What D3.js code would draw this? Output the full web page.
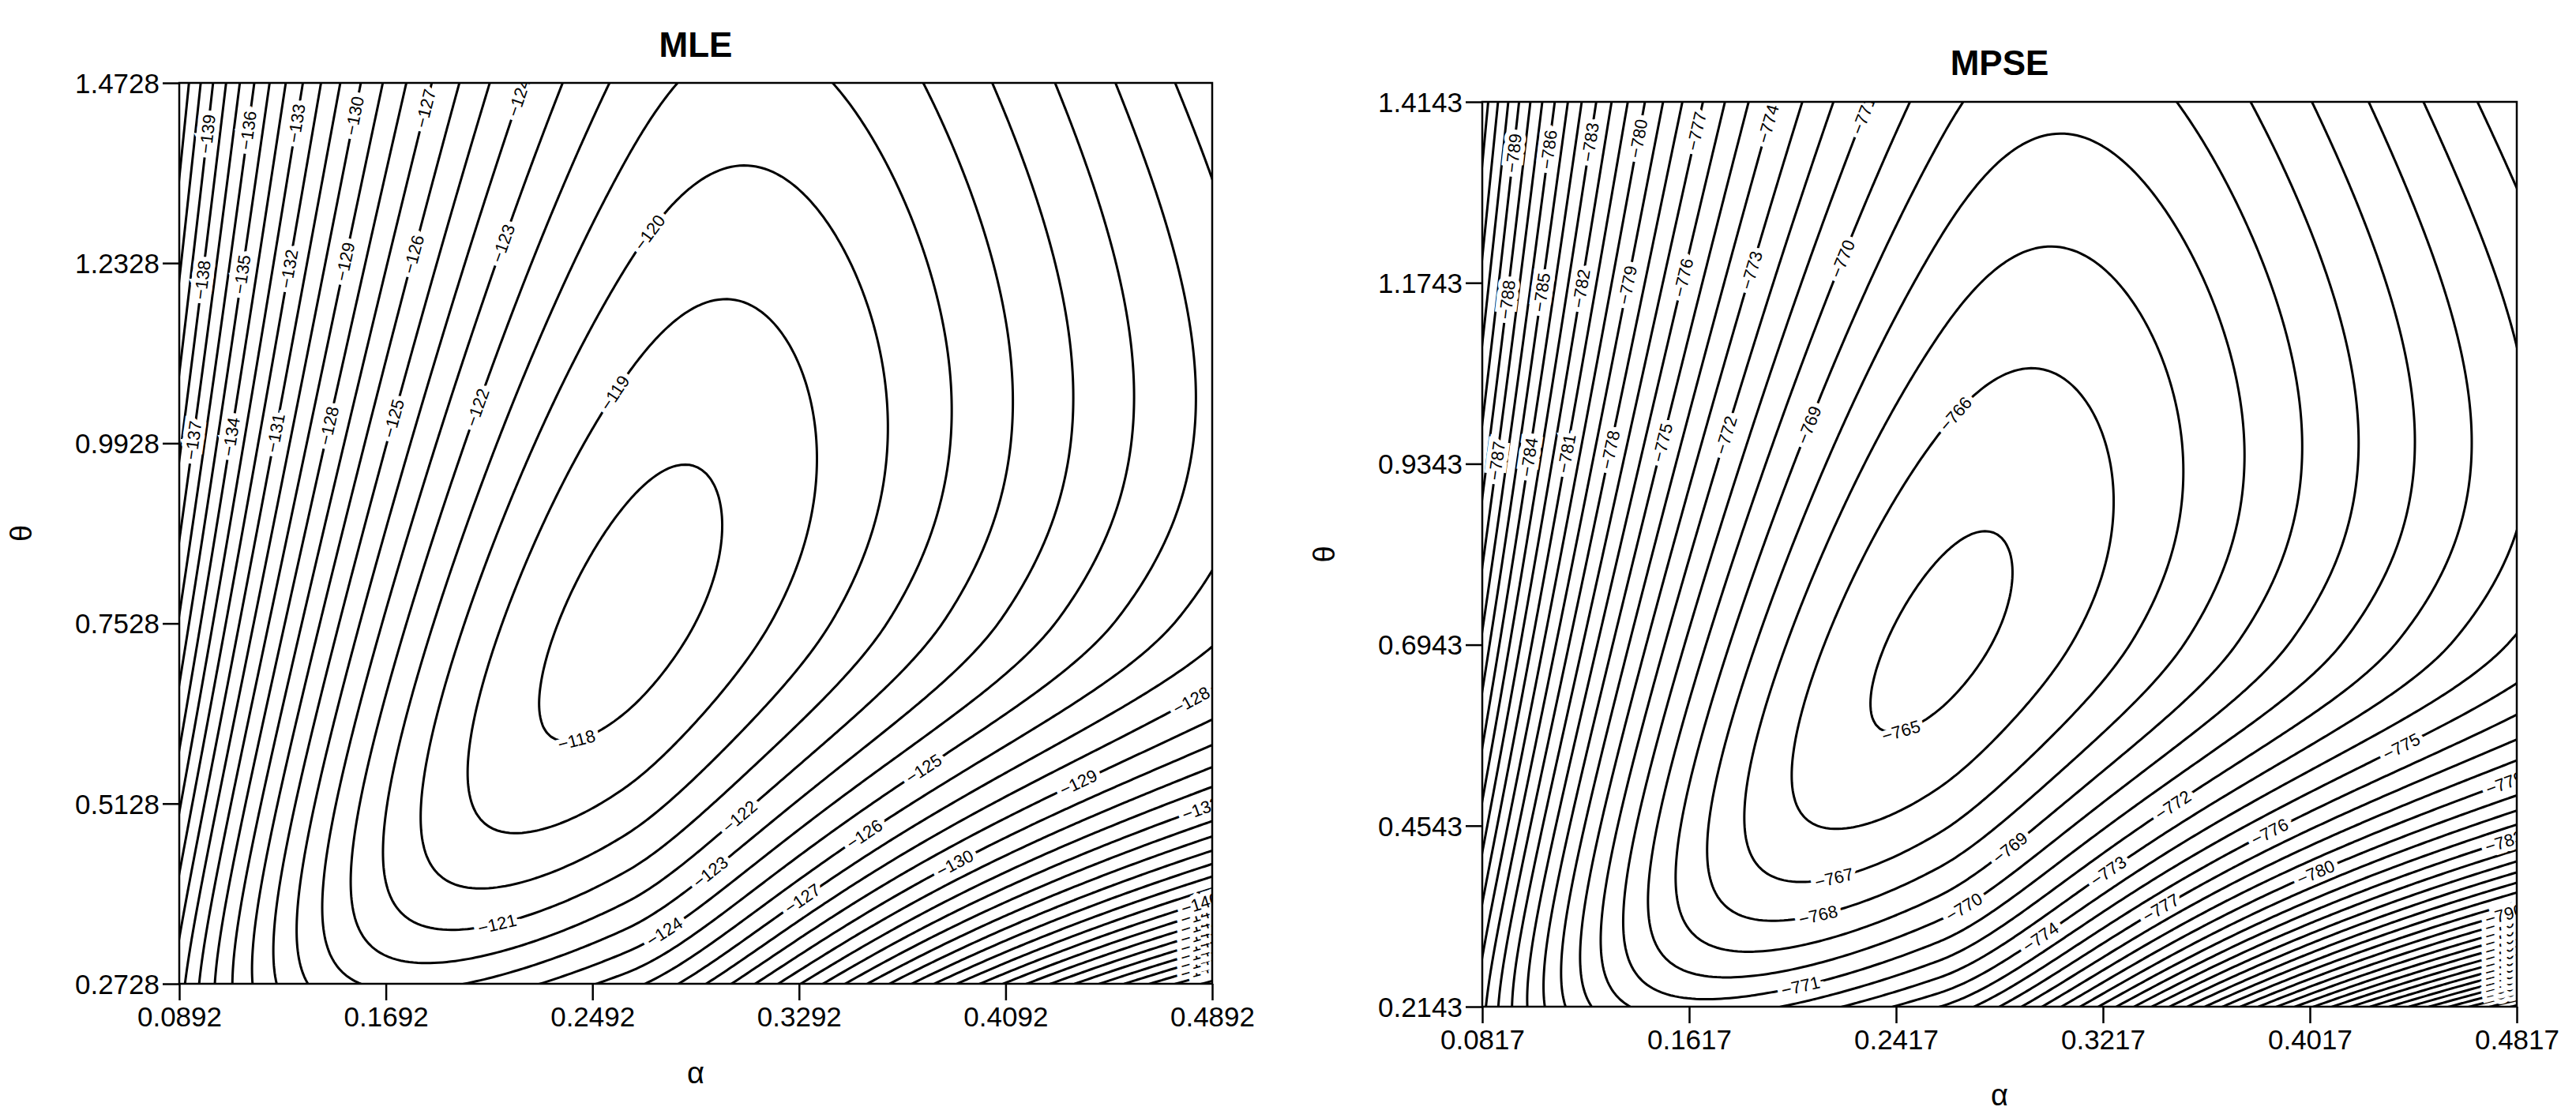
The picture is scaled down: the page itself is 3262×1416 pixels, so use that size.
<!DOCTYPE html>
<html>
<head>
<meta charset="utf-8">
<script src="https://cdn.jsdelivr.net/npm/d3@7"></script>
<style>
  body { margin: 0; background: #fff; }
  text { font-family: "Liberation Sans", Arial, sans-serif; }
</style>
</head>
<body>
<svg id="viz" width="3262" height="1416"></svg>
<script>
// tick values
var mleAlphaTicks = [0.0892, 0.1692, 0.2492, 0.3292, 0.4092, 0.4892];
var mleThetaTicks = [0.2728, 0.5128, 0.7528, 0.9928, 1.2328, 1.4728];
var mpseAlphaTicks = [0.0817, 0.1617, 0.2417, 0.3217, 0.4017, 0.4817];
var mpseThetaTicks = [0.2143, 0.4543, 0.6943, 0.9343, 1.1743, 1.4143];

// contour levels
var mleLevels = d3.range(-118, -161, -1);
var mpseLevels = d3.range(-765, -811, -1);

// surface shape:
// [peak value, alpha at peak, theta at peak, A, B, C, K, k]
var mleSurface = [-117.6, 0.262, 0.76, 40, -15, 12.6, 166, 6];
var mpseSurface = [-764.75, 0.258, 0.70, 40, -15, 12.6, 175, 7];

function surface(p, a, t) {
  var x = Math.log(a / p[1]), y = Math.log(t / p[2]);
  var xp = Math.max(x, 0);
  var yw = y < 0 ? y * y : 0.25 * y * y;
  var q = p[3] * x * x + 2 * p[4] * x * y + p[5] * y * y + p[6] * xp * xp * yw;
  var k = p[7];
  return p[0] - k * (Math.sqrt(1 + 2 * q / k) - 1);
}

var svg = d3.select("#viz");

function segDist(p, a, b) {
  var dx = b[0] - a[0], dy = b[1] - a[1];
  var u = Math.max(0, Math.min(1, ((p[0] - a[0]) * dx + (p[1] - a[1]) * dy) / (dx * dx + dy * dy)));
  return Math.hypot(p[0] - a[0] - u * dx, p[1] - a[1] - u * dy);
}

function drawPanel(opt) {
  var g = svg.append("g");
  var x = d3.scaleLinear().domain(d3.extent(opt.aTicks)).range([opt.x0, opt.x1]);
  var y = d3.scaleLinear().domain(d3.extent(opt.tTicks)).range([opt.y1, opt.y0]);
  var W = opt.x1 - opt.x0, H = opt.y1 - opt.y0;
  var P = function(fx, fy) { return [opt.x0 + fx * W, opt.y0 + fy * H]; };

  // grid a bit larger than the plot so the outer edges get clipped off
  var n = 260, m = 260, pad = 6;
  var gx = d3.scaleLinear().domain([pad, n - 1 - pad]).range(x.domain());
  var gy = d3.scaleLinear().domain([pad, m - 1 - pad]).range(y.domain().slice().reverse());
  var vals = new Array(n * m);
  for (var j = 0; j < m; j++)
    for (var i = 0; i < n; i++)
      vals[j * n + i] = surface(opt.surf, Math.max(gx(i), 0.01), Math.max(gy(j), 0.01));

  var contours = d3.contours().size([n, m]).thresholds(opt.levels.slice().reverse())(vals);
  var proj = function(pt) { return [x(gx(pt[0] - 0.5)), y(gy(pt[1] - 0.5))]; };

  var clipId = "clip" + opt.id;
  g.append("clipPath").attr("id", clipId).append("rect")
    .attr("x", opt.x0).attr("y", opt.y0).attr("width", W).attr("height", H);
  var cg = g.append("g").attr("clip-path", "url(#" + clipId + ")");
  var lg = g.append("g").attr("clip-path", "url(#" + clipId + ")");
  var line = d3.line();

  // label bands, staggered in three rows like the original
  var bands = [
    [[P(0.0, 0.06), P(0.45, 0.0)], [P(0.0, 0.22), P(0.45, 0.16)], [P(0.0, 0.4), P(0.45, 0.34)]],
    [[P(0.25, 1.0), P(1.0, 0.8)], [P(0.25, 0.95), P(1.0, 0.74)], [P(0.25, 0.9), P(1.0, 0.68)]]
  ];

  contours.forEach(function(c, ci) {
    var pts = [];
    c.coordinates.forEach(function(poly) {
      poly.forEach(function(ring) {
        var r = ring.map(proj);
        cg.append("path").attr("d", line(r)).attr("fill", "none")
          .attr("stroke", "#000").attr("stroke-width", 3);
        for (var k = 1; k < r.length; k++) pts.push([r[k - 1], r[k]]);
      });
    });
    var inside = pts.filter(function(s) {
      var p = s[0];
      return p[0] > opt.x0 + 14 && p[0] < opt.x1 - 14 && p[1] > opt.y0 + 14 && p[1] < opt.y1 - 14;
    });
    if (!inside.length) return;
    var picks = [];
    bands.forEach(function(b, bi) {
      var seg = b[ci % 3];
      var best = d3.least(inside, function(s) { return segDist(s[0], seg[0], seg[1]); });
      var d = segDist(best[0], seg[0], seg[1]);
      if (d < 25) picks.push(best);
    });
    if (!picks.length) {
      var seg = bands[1][0];
      picks.push(d3.least(inside, function(s) { return segDist(s[0], seg[0], seg[1]); }));
    }
    picks.forEach(function(best) {
      var ang = Math.atan2(best[1][1] - best[0][1], best[1][0] - best[0][0]) * 180 / Math.PI;
      if (ang > 90) ang -= 180;
      if (ang < -90) ang += 180;
      lg.append("text")
        .attr("transform", "translate(" + best[0][0] + "," + best[0][1] + ") rotate(" + ang + ")")
        .attr("text-anchor", "middle").attr("dy", "0.35em")
        .attr("font-size", 22)
        .attr("stroke", "#fff").attr("stroke-width", 12).attr("paint-order", "stroke")
        .attr("fill", "#000")
        .text("\u2212" + Math.abs(c.value));
    });
  });

  // frame
  g.append("rect").attr("x", opt.x0).attr("y", opt.y0).attr("width", W).attr("height", H)
    .attr("fill", "none").attr("stroke", "#000").attr("stroke-width", 2.5);

  var xa = g.append("g").attr("transform", "translate(0," + opt.y1 + ")")
    .call(d3.axisBottom(x).tickValues(opt.aTicks).tickFormat(d3.format(".4f")).tickSize(21).tickPadding(8));
  var ya = g.append("g").attr("transform", "translate(" + opt.x0 + ",0)")
    .call(d3.axisLeft(y).tickValues(opt.tTicks).tickFormat(d3.format(".4f")).tickSize(21).tickPadding(4));
  [xa, ya].forEach(function(a) {
    a.select(".domain").remove();
    a.selectAll("line").attr("stroke", "#000").attr("stroke-width", 2.5);
    a.selectAll("text").attr("font-size", 35).attr("fill", "#000")
      .style("font-family", "'Liberation Sans', Arial, sans-serif");
  });
  ya.selectAll("text").attr("dy", "0.35em");

  g.append("text").attr("x", (opt.x0 + opt.x1) / 2).attr("y", opt.titleY)
    .attr("text-anchor", "middle").attr("font-size", 44).attr("font-weight", "bold").text(opt.title);
  g.append("text").attr("x", (opt.x0 + opt.x1) / 2).attr("y", opt.alphaY)
    .attr("text-anchor", "middle").attr("font-size", 38).text("\u03b1");
  g.append("text").attr("transform", "translate(" + opt.thetaX + "," + ((opt.y0 + opt.y1) / 2) + ") rotate(-90)")
    .attr("text-anchor", "middle").attr("font-size", 38).text("\u03b8");
}

drawPanel({ id: 1, title: "MLE", aTicks: mleAlphaTicks, tTicks: mleThetaTicks, levels: mleLevels,
  surf: mleSurface, x0: 227, x1: 1535, y0: 105, y1: 1246, titleY: 72, alphaY: 1372, thetaX: 40 });
drawPanel({ id: 2, title: "MPSE", aTicks: mpseAlphaTicks, tTicks: mpseThetaTicks, levels: mpseLevels,
  surf: mpseSurface, x0: 1877, x1: 3187, y0: 129, y1: 1275, titleY: 95, alphaY: 1400, thetaX: 1690 });
</script>
</body>
</html>
